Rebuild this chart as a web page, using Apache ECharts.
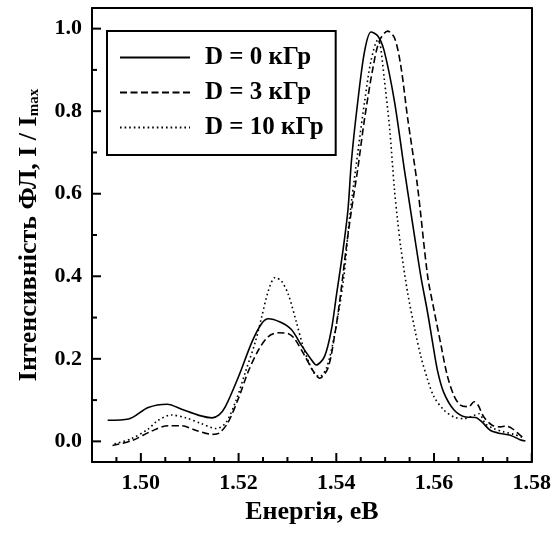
<!DOCTYPE html>
<html><head><meta charset="utf-8">
<script src="https://cdn.jsdelivr.net/npm/echarts@6/dist/echarts.min.js"></script>
<style>html,body{margin:0;padding:0;background:#fff}#c{width:554px;height:539px}</style>
</head><body><div id="c"></div>
<script>
const seriesNames = ['D = 0 кГр', 'D = 3 кГр', 'D = 10 кГр'];

const energy0 = [1.4932,1.4975,1.5015,1.5054,1.5085,1.5119,1.5146,1.5160,1.5173,1.5200,1.5227,1.5247,1.5261,1.5285,1.5308,1.5329,1.5349,1.5359,1.5376,1.5390,1.5400,1.5414,1.5424,1.5431,1.5444,1.5458,1.5471,1.5485,1.5498,1.5519,1.5539,1.5560,1.5573,1.5587,1.5597,1.5607,1.5620,1.5641,1.5665,1.5685,1.5698,1.5715,1.5736,1.5756,1.5776,1.5787];
const intensity0 = [0.051,0.054,0.082,0.090,0.077,0.063,0.057,0.064,0.084,0.157,0.240,0.285,0.297,0.289,0.271,0.232,0.198,0.185,0.206,0.271,0.352,0.466,0.563,0.680,0.824,0.946,0.992,0.982,0.946,0.824,0.661,0.498,0.400,0.311,0.240,0.172,0.118,0.076,0.059,0.058,0.047,0.027,0.019,0.015,0.004,0.001];

const energy3 = [1.4942,1.4982,1.5022,1.5056,1.5083,1.5112,1.5146,1.5160,1.5178,1.5200,1.5220,1.5241,1.5261,1.5281,1.5302,1.5315,1.5336,1.5353,1.5366,1.5383,1.5397,1.5407,1.5420,1.5431,1.5444,1.5458,1.5475,1.5488,1.5505,1.5519,1.5532,1.5546,1.5566,1.5587,1.5600,1.5614,1.5627,1.5641,1.5654,1.5671,1.5682,1.5690,1.5702,1.5719,1.5736,1.5746,1.5760,1.5776,1.5783];
const intensity3 = [-0.010,0.002,0.025,0.038,0.038,0.027,0.017,0.020,0.045,0.105,0.170,0.222,0.254,0.263,0.261,0.248,0.206,0.170,0.153,0.178,0.260,0.340,0.466,0.560,0.661,0.783,0.905,0.970,0.994,0.978,0.910,0.783,0.620,0.400,0.318,0.235,0.160,0.110,0.088,0.084,0.096,0.088,0.059,0.039,0.035,0.037,0.031,0.015,0.009];

const energy10 = [1.4946,1.4980,1.5015,1.5034,1.5062,1.5092,1.5122,1.5154,1.5174,1.5195,1.5214,1.5234,1.5247,1.5261,1.5275,1.5288,1.5302,1.5318,1.5332,1.5345,1.5356,1.5366,1.5380,1.5395,1.5414,1.5427,1.5444,1.5458,1.5471,1.5485,1.5490,1.5498,1.5509,1.5519,1.5525,1.5532,1.5546,1.5560,1.5573,1.5587,1.5600,1.5620,1.5641,1.5661,1.5682,1.5692,1.5705,1.5722,1.5743,1.5763,1.5780];
const intensity10 = [-0.006,0.006,0.030,0.050,0.064,0.057,0.044,0.031,0.045,0.100,0.168,0.240,0.300,0.365,0.397,0.388,0.355,0.290,0.230,0.188,0.163,0.157,0.178,0.250,0.385,0.540,0.700,0.824,0.922,0.972,0.960,0.880,0.760,0.610,0.540,0.470,0.360,0.275,0.206,0.149,0.108,0.076,0.059,0.055,0.063,0.067,0.043,0.031,0.023,0.017,0.010];

const xMajorTicks = [1.50, 1.52, 1.54, 1.56, 1.58];
const xMinorTicks = [1.495,1.505,1.51,1.515,1.525,1.53,1.535,1.545,1.55,1.555,1.565,1.57,1.575];
const yMajorTicks = [0, 0.2, 0.4, 0.6, 0.8, 1.0];
const yMinorTicks = [0.1, 0.3, 0.5, 0.7, 0.9];

const X_MIN = 1.49, X_MAX = 1.58, Y_MIN = -0.05, Y_MAX = 1.05;
const FONT = "'Liberation Serif', 'Times New Roman', serif";
const zip = (xs, ys) => xs.map((x, i) => [x, ys[i]]);

// Tick marks drawn through the axes' own scale (api.coord)
function tickSeries(values, dir, len) {
  const data = dir === 'x' ? values.map(v => [v, Y_MIN]) : values.map(v => [X_MIN, v]);
  return {
    type: 'custom', silent: true, clip: false, z: 5,
    data: data,
    encode: {x: 0, y: 1},
    renderItem: function (params, api) {
      const p = api.coord([api.value(0), api.value(1)]);
      const shape = dir === 'x'
        ? {x1: p[0], y1: p[1], x2: p[0], y2: p[1] - len}
        : {x1: p[0], y1: p[1], x2: p[0] + len, y2: p[1]};
      return {type: 'line', shape: shape, style: {stroke: '#000', lineWidth: 2}};
    }
  };
}

const chart = echarts.init(document.getElementById('c'), null, {renderer: 'canvas'});
const axisLine = {show: true, onZero: false, lineStyle: {color: '#000', width: 2}};
const xCommon = {type: 'value', min: X_MIN, max: X_MAX, splitLine: {show: false}, axisLine: axisLine, axisTick: {show: false}};
const yCommon = {type: 'value', min: Y_MIN, max: Y_MAX, splitLine: {show: false}, axisLine: axisLine, axisTick: {show: false}};
chart.setOption({
  animation: false,
  backgroundColor: '#fff',
  grid: {left: 92, right: 21, top: 8, bottom: 77, show: false},
  legend: {
    orient: 'vertical', left: 107, top: 31,
    borderColor: '#000', borderWidth: 2, padding: [14, 12, 15, 12],
    itemWidth: 70, itemHeight: 20, itemGap: 10,
    itemStyle: {opacity: 0},
    textStyle: {fontFamily: FONT, fontWeight: 'bold', fontSize: 25, color: '#000', padding: [0, 0, 0, 10]},
    data: seriesNames
  },
  xAxis: [
    Object.assign({}, xCommon, {
      position: 'bottom',
      name: 'Енергія, еВ', nameLocation: 'middle', nameGap: 34,
      nameTextStyle: {fontFamily: FONT, fontWeight: 'bold', fontSize: 26, color: '#000'},
      axisLabel: {show: true, margin: 10, fontFamily: FONT, fontWeight: 'bold', fontSize: 22, color: '#000', customValues: xMajorTicks, formatter: v => v.toFixed(2)}
    }),
    Object.assign({}, xCommon, {position: 'top', axisLabel: {show: false}})
  ],
  yAxis: [
    Object.assign({}, yCommon, {
      position: 'left',
      name: '{a|Інтенсивність ФЛ, I / I}{b|max}', nameLocation: 'middle', nameGap: 50,
      nameTextStyle: {color: '#000', rich: {
        a: {fontFamily: FONT, fontWeight: 'bold', fontSize: 26, color: '#000'},
        b: {fontFamily: FONT, fontWeight: 'bold', fontSize: 15, color: '#000', verticalAlign: 'bottom', padding: [10, 0, 0, 0]}
      }},
      axisLabel: {show: true, margin: 10, fontFamily: FONT, fontWeight: 'bold', fontSize: 22, color: '#000', customValues: yMajorTicks, formatter: v => v.toFixed(1)}
    }),
    Object.assign({}, yCommon, {position: 'right', axisLabel: {show: false}})
  ],
  series: [
    {name: seriesNames[0], type: 'line', symbol: 'none', smooth: 0.3, data: zip(energy0, intensity0),
     itemStyle: {color: '#000'}, lineStyle: {color: '#000', width: 1.6, type: 'solid'}},
    {name: seriesNames[1], type: 'line', symbol: 'none', smooth: 0.3, data: zip(energy3, intensity3),
     itemStyle: {color: '#000'}, lineStyle: {color: '#000', width: 1.6, type: [7, 3.5]}},
    {name: seriesNames[2], type: 'line', symbol: 'none', smooth: 0.3, data: zip(energy10, intensity10),
     itemStyle: {color: '#000'}, lineStyle: {color: '#000', width: 1.6, type: [1.6, 3]}},
    tickSeries(xMajorTicks, 'x', 9),
    tickSeries(xMinorTicks, 'x', 5),
    tickSeries(yMajorTicks, 'y', 9),
    tickSeries(yMinorTicks, 'y', 5)
  ]
});
</script></body></html>
